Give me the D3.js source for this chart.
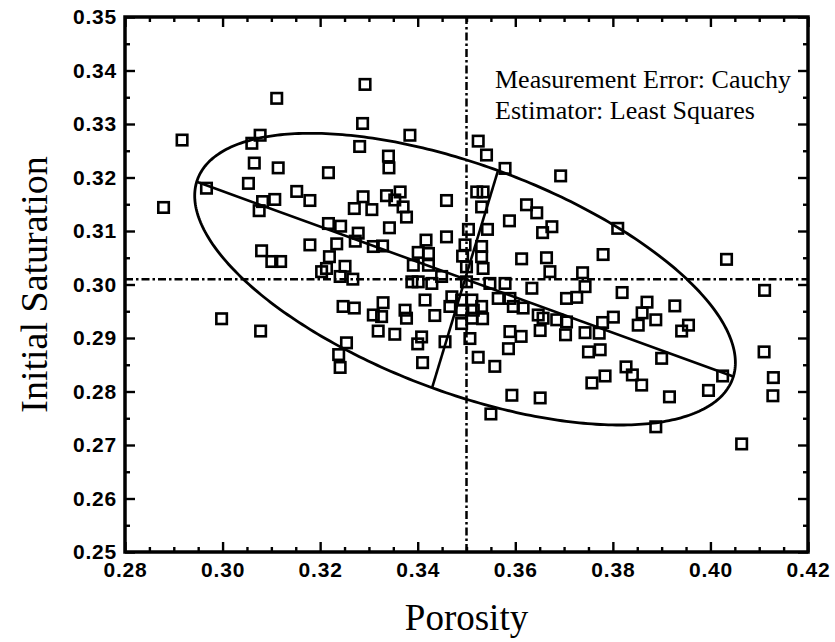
<!DOCTYPE html>
<html>
<head>
<meta charset="utf-8">
<script src="https://cdn.jsdelivr.net/npm/d3@7/dist/d3.min.js"></script>
<style>
  html, body { margin: 0; padding: 0; background: #fff; }
  svg { display: block; }
</style>
</head>
<body>
<svg id="chart" width="835" height="642"></svg>
<script>
// ---- data ----
const porosity = [
  0.2879,0.2917,0.2967,0.2998,0.3053,0.3060,0.3065,0.3075,0.3077,0.3078,
  0.3082,0.3080,0.3101,0.3107,0.3111,0.3114,0.3119,0.3152,0.3179,0.3179,
  0.3217,0.3217,0.3219,0.3213,0.3203,0.3234,0.3242,0.3241,0.3251,0.3267,
  0.3272,0.3270,0.3278,0.3247,0.3270,0.3254,0.3238,0.3241,0.3292,0.3287,
  0.3281,0.3288,0.3306,0.3309,0.3328,0.3336,0.3340,0.3341,0.3342,0.3353,
  0.3364,0.3370,0.3377,0.3384,0.3401,0.3417,0.3422,0.3459,0.3459,0.3391,
  0.3422,0.3388,0.3401,0.3429,0.3449,0.3329,0.3309,0.3326,0.3374,0.3377,
  0.3415,0.3435,0.3319,0.3353,0.3408,0.3400,0.3456,0.3410,0.3497,0.3492,
  0.3531,0.3531,0.3504,0.3543,0.3524,0.3541,0.3579,0.3521,0.3534,0.3531,
  0.3588,0.3623,0.3644,0.3675,0.3656,0.3693,0.3613,0.3664,0.3671,0.3500,
  0.3534,0.3500,0.3548,0.3579,0.3634,0.3705,0.3470,0.3466,0.3490,0.3511,
  0.3490,0.3514,0.3531,0.3511,0.3533,0.3490,0.3565,0.3589,0.3596,0.3616,
  0.3647,0.3657,0.3651,0.3685,0.3705,0.3703,0.3589,0.3612,0.3586,0.3507,
  0.3524,0.3558,0.3593,0.3651,0.3550,0.3780,0.3810,0.3738,0.3743,0.3726,
  0.3819,0.3870,0.3927,0.3860,0.3888,0.3852,0.3801,0.3779,0.3772,0.3743,
  0.3955,0.3941,0.4033,0.4111,0.3750,0.3774,0.3900,0.4110,0.3827,0.3840,
  0.3859,0.3784,0.3757,0.4025,0.3996,0.3916,0.4129,0.4128,0.3888,0.4064
];
const saturation = [
  0.3144,0.3270,0.3180,0.2936,0.3189,0.3264,0.3227,0.3138,0.3279,0.2913,
  0.3155,0.3063,0.3043,0.3159,0.3348,0.3218,0.3043,0.3174,0.3157,0.3074,
  0.3209,0.3114,0.3052,0.3030,0.3024,0.3076,0.3109,0.3015,0.3034,0.3010,
  0.3081,0.3142,0.3096,0.2959,0.2956,0.2891,0.2869,0.2845,0.3374,0.3301,
  0.3258,0.3164,0.3140,0.3071,0.3072,0.3166,0.3240,0.3218,0.3106,0.3158,
  0.3173,0.3145,0.3126,0.3279,0.3060,0.3083,0.3058,0.3157,0.3089,0.3036,
  0.3036,0.3005,0.3005,0.3002,0.3015,0.2966,0.2943,0.2940,0.2952,0.2937,
  0.2971,0.2942,0.2913,0.2907,0.2902,0.2889,0.2893,0.2854,0.3074,0.3053,
  0.3071,0.3052,0.3103,0.3103,0.3268,0.3242,0.3217,0.3173,0.3173,0.3145,
  0.3119,0.3149,0.3134,0.3108,0.3097,0.3203,0.3048,0.3050,0.3024,0.3033,
  0.3030,0.3005,0.3002,0.3002,0.2993,0.2974,0.2977,0.2959,0.2971,0.2971,
  0.2952,0.2952,0.2959,0.2937,0.2936,0.2927,0.2974,0.2974,0.2959,0.2956,
  0.2943,0.2937,0.2914,0.2934,0.2930,0.2906,0.2912,0.2903,0.2880,0.2899,
  0.2864,0.2847,0.2793,0.2788,0.2758,0.3056,0.3105,0.3022,0.2996,0.2976,
  0.2985,0.2967,0.2960,0.2947,0.2934,0.2924,0.2939,0.2929,0.2909,0.2910,
  0.2924,0.2913,0.3047,0.2989,0.2874,0.2878,0.2862,0.2874,0.2846,0.2831,
  0.2812,0.2829,0.2816,0.2829,0.2802,0.2790,0.2826,0.2792,0.2734,0.2702
];
// ellipse: centre and semi-axis vectors (data units)
const ellipseCenter = [0.3497, 0.3010];
const majorSemiAxis = [0.0550, -0.0182];
const minorSemiAxis = [0.00676, 0.0203];
// reference (mean) lines
const meanPorosity = 0.35;
const meanSaturation = 0.301;
// ticks
const xMajorTicks = [0.28,0.30,0.32,0.34,0.36,0.38,0.40,0.42];
const yMajorTicks = [0.25,0.26,0.27,0.28,0.29,0.30,0.31,0.32,0.33,0.34,0.35];
const xDomain = [0.28, 0.42];
const yDomain = [0.25, 0.35];
const annotation = ["Measurement Error: Cauchy", "Estimator: Least Squares"];

// ---- layout ----
const svg = d3.select("#chart");
const L = 125, T = 17, W = 683, H = 535;
const x = d3.scaleLinear().domain(xDomain).range([L, L + W]);
const y = d3.scaleLinear().domain(yDomain).range([T + H, T]);

const minorX = d3.range(0, 29).map(i => +(0.28 + i * 0.005).toFixed(3)).filter(v => !xMajorTicks.some(m => Math.abs(m - v) < 1e-9));
const minorY = d3.range(0, 21).map(i => +(0.25 + i * 0.005).toFixed(3)).filter(v => !yMajorTicks.some(m => Math.abs(m - v) < 1e-9));

const fmt = d3.format(".2f");
const tickFont = "'Liberation Sans', Arial, sans-serif";
const serif = "'Liberation Serif', 'Times New Roman', serif";

function styleAxis(g, labels) {
  g.select(".domain").remove();
  g.selectAll(".tick line").attr("stroke", "#000").attr("stroke-width", 2.4);
  g.selectAll(".tick text")
    .attr("fill", "#000")
    .style("font-family", tickFont)
    .style("font-weight", "bold")
    .style("font-size", "21px")
    .style("letter-spacing", "0.8px");
  if (!labels) g.selectAll(".tick text").remove();
}

// bottom
svg.append("g").attr("transform", `translate(0,${T + H})`)
  .call(d3.axisBottom(x).tickValues(xMajorTicks).tickFormat(fmt).tickSizeInner(-10).tickSizeOuter(0).tickPadding(10))
  .call(g => styleAxis(g, true));
svg.append("g").attr("transform", `translate(0,${T + H})`)
  .call(d3.axisBottom(x).tickValues(minorX).tickFormat("").tickSizeInner(-5).tickSizeOuter(0))
  .call(g => styleAxis(g, false));
// top
svg.append("g").attr("transform", `translate(0,${T})`)
  .call(d3.axisTop(x).tickValues(xMajorTicks).tickFormat("").tickSizeInner(-10).tickSizeOuter(0))
  .call(g => styleAxis(g, false));
svg.append("g").attr("transform", `translate(0,${T})`)
  .call(d3.axisTop(x).tickValues(minorX).tickFormat("").tickSizeInner(-5).tickSizeOuter(0))
  .call(g => styleAxis(g, false));
// left
svg.append("g").attr("transform", `translate(${L},0)`)
  .call(d3.axisLeft(y).tickValues(yMajorTicks).tickFormat(fmt).tickSizeInner(-10).tickSizeOuter(0).tickPadding(8))
  .call(g => styleAxis(g, true));
svg.append("g").attr("transform", `translate(${L},0)`)
  .call(d3.axisLeft(y).tickValues(minorY).tickFormat("").tickSizeInner(-5).tickSizeOuter(0))
  .call(g => styleAxis(g, false));
// right
svg.append("g").attr("transform", `translate(${L + W},0)`)
  .call(d3.axisRight(y).tickValues(yMajorTicks).tickFormat("").tickSizeInner(-10).tickSizeOuter(0))
  .call(g => styleAxis(g, false));
svg.append("g").attr("transform", `translate(${L + W},0)`)
  .call(d3.axisRight(y).tickValues(minorY).tickFormat("").tickSizeInner(-5).tickSizeOuter(0))
  .call(g => styleAxis(g, false));

// frame
svg.append("rect").attr("x", L).attr("y", T).attr("width", W).attr("height", H)
  .attr("fill", "none").attr("stroke", "#000").attr("stroke-width", 3.5);

// mean lines (dash-dot)
svg.append("line")
  .attr("x1", x(meanPorosity)).attr("x2", x(meanPorosity))
  .attr("y1", y(yDomain[0])).attr("y2", y(yDomain[1]))
  .attr("stroke", "#000").attr("stroke-width", 2.5).attr("stroke-dasharray", "8,3,2.5,3");
svg.append("line")
  .attr("x1", x(xDomain[0])).attr("x2", x(xDomain[1]))
  .attr("y1", y(meanSaturation)).attr("y2", y(meanSaturation))
  .attr("stroke", "#000").attr("stroke-width", 2.5).attr("stroke-dasharray", "8,3,2.5,3");

// ellipse
const angles = d3.range(0, 361).map(d => d * Math.PI / 180);
const ellPts = angles.map(t => [
  ellipseCenter[0] + majorSemiAxis[0] * Math.cos(t) + minorSemiAxis[0] * Math.sin(t),
  ellipseCenter[1] + majorSemiAxis[1] * Math.cos(t) + minorSemiAxis[1] * Math.sin(t)
]);
const line = d3.line().x(d => x(d[0])).y(d => y(d[1]));
svg.append("path").attr("d", line(ellPts) + "Z")
  .attr("fill", "none").attr("stroke", "#000").attr("stroke-width", 2.8);
// principal axes
const majorLine = [
  [ellipseCenter[0] - majorSemiAxis[0], ellipseCenter[1] - majorSemiAxis[1]],
  [ellipseCenter[0] + majorSemiAxis[0], ellipseCenter[1] + majorSemiAxis[1]]
];
const minorLine = [
  [ellipseCenter[0] - minorSemiAxis[0], ellipseCenter[1] - minorSemiAxis[1]],
  [ellipseCenter[0] + minorSemiAxis[0], ellipseCenter[1] + minorSemiAxis[1]]
];
svg.append("path").attr("d", line(majorLine)).attr("fill", "none").attr("stroke", "#000").attr("stroke-width", 2.6);
svg.append("path").attr("d", line(minorLine)).attr("fill", "none").attr("stroke", "#000").attr("stroke-width", 2.6);

// points (open squares)
const s = 10.5;
const pts = porosity.map((p, i) => ({ p, s: saturation[i] }));
svg.append("g").selectAll("rect").data(pts).join("rect")
  .attr("x", d => x(d.p) - s / 2).attr("y", d => y(d.s) - s / 2)
  .attr("width", s).attr("height", s)
  .attr("fill", "none").attr("stroke", "#000").attr("stroke-width", 2.6);

// annotation
svg.append("g").selectAll("text").data(annotation).join("text")
  .attr("x", 495).attr("y", (d, i) => 88 + i * 31)
  .style("font-family", serif).style("font-size", "26px").attr("fill", "#000")
  .text(d => d);

// axis titles
svg.append("text").attr("x", L + W / 2).attr("y", 630).attr("text-anchor", "middle")
  .style("font-family", serif).style("font-size", "37px").attr("fill", "#000").text("Porosity");
svg.append("text").attr("transform", `translate(47,${T + H / 2}) rotate(-90)`).attr("text-anchor", "middle")
  .style("font-family", serif).style("font-size", "38px").attr("fill", "#000").text("Initial Saturation");
</script>
</body>
</html>
